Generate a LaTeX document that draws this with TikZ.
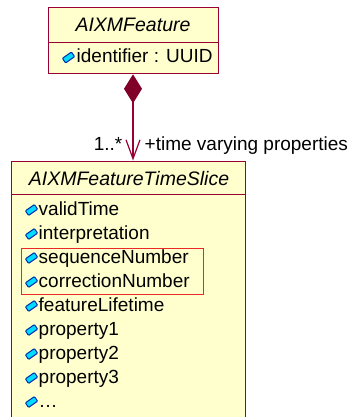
\documentclass[tikz,border=0pt]{standalone}
\usepackage{fontspec}
\setmainfont{Liberation Sans}
\usetikzlibrary{arrows.meta}
\definecolor{umlfill}{RGB}{255,255,206}
\definecolor{umlline}{RGB}{153,0,51}
\definecolor{umldia}{RGB}{128,0,40}
\definecolor{hilite}{RGB}{235,40,40}
\definecolor{iconfill}{RGB}{0,220,255}
\definecolor{iconline}{RGB}{0,40,170}
\tikzset{
  part/.style={draw=umlline, line width=1.3pt, fill=umlfill, rectangle, inner sep=0pt, anchor=north west},
  ttl/.style={font=\fontsize{19.5}{22}\selectfont\itshape, inner sep=0pt},
  attr/.style={font=\fontsize{19}{22}\selectfont, inner sep=0pt, anchor=west, text height=14pt, text depth=4pt},
  lbl/.style={font=\fontsize{19}{22}\selectfont, inner sep=0pt, text height=14pt, text depth=4pt},
  redbox/.style={draw=hilite, line width=1.2pt, rectangle, inner sep=0pt, anchor=north west},
  attricon/.pic={
    \draw[rotate=35, fill=iconfill, draw=iconline, line width=1pt, rounded corners=0.8pt] (-5.5,-2.8) rectangle (5.5,2.8);
  }
}
\begin{document}
\begin{tikzpicture}[x=1pt,y=-1pt]
\useasboundingbox (0,0) rectangle (355,417);
\clip (0,0) rectangle (355,417);
\fill[white] (0,0) rectangle (355,417);
% AIXMFeature
\node[part, minimum width=170pt, minimum height=35pt] (ftitle) at (48,7) {};
\node[part, minimum width=170pt, minimum height=31pt] (fattr) at (48,42) {};
\node[ttl] (fname) at (133,25) {AIXMFeature};
\pic at (68.5,57.5) {attricon};
\node[attr] (fid) at (76.5,57.5) {identifier : UUID};
% AIXMFeatureTimeSlice
\node[part, minimum width=234pt, minimum height=33.5pt] (tstitle) at (11,160.5) {};
\node[part, minimum width=234pt, minimum height=240pt] (tsattr) at (11,194) {};
\node[ttl] (tsname) at (129,178.5) {AIXMFeatureTimeSlice};
\foreach \n/\t [count=\i from 0] in {a1/validTime,a2/interpretation,a3/sequenceNumber,a4/correctionNumber,a5/featureLifetime,a6/property1,a7/property2,a8/property3,a9/\dots}{
  \pic at (31.5,{210+24*\i}) {attricon};
  \node[attr] (\n) at (38.5,{210+24*\i}) {\t};
}
\node[redbox, minimum width=182pt, minimum height=46.5pt] (hl) at (21,247.5) {};
% composition
\draw[umlline, line width=1.2pt, {Diamond[length=29pt,width=18pt,fill=umldia,color=umldia]}-{Straight Barb[length=19pt,width=14pt]}] (fattr.south -| fname) -- (tstitle.north -| fname);
\node[lbl, anchor=east] (mult) at (122.5,145) {1..*};
\node[lbl, anchor=west] (role) at (144.5,145) {+time varying properties};
\end{tikzpicture}
\end{document}
